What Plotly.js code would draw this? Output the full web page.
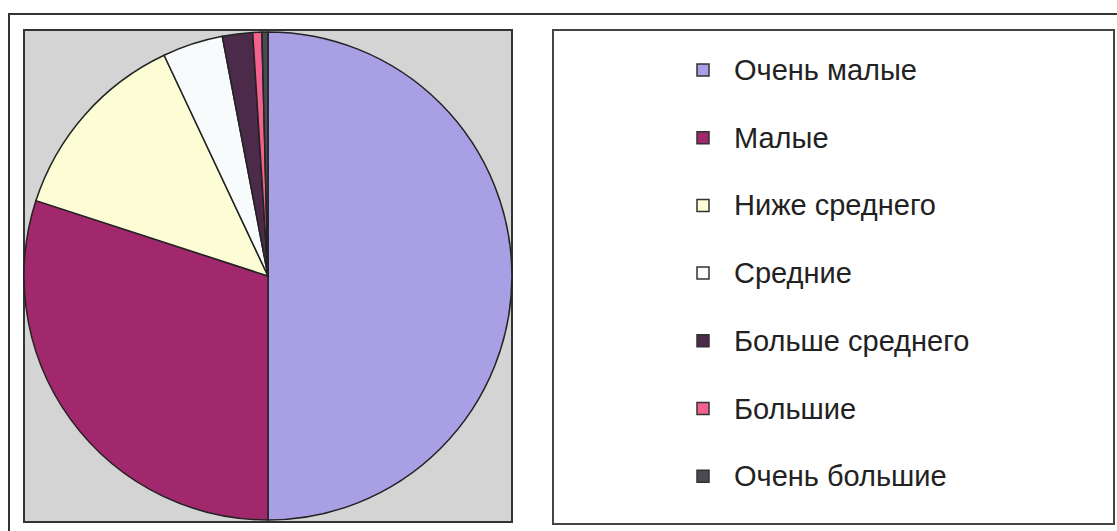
<!DOCTYPE html>
<html>
<head>
<meta charset="utf-8">
<script src="https://cdn.plot.ly/plotly-3.0.1.min.js"></script>
<style>html,body{margin:0;padding:0;background:#fff;}#chart{width:1117px;height:531px;}</style>
</head>
<body>
<div id="chart"></div>
<script>
const labels = ["Очень малые", "Малые", "Ниже среднего", "Средние", "Больше среднего", "Большие", "Очень большие"];
const values = [50, 30, 13, 4, 2, 0.6, 0.4];
const colors = ["#a89fe5", "#a2286d", "#fdfdd5", "#f7fbfb", "#4c2a4a", "#f2628c", "#4a4a55"];

const W = 1117, H = 531;
const px = x => x / W;
const py = y => (H - y) / H;

const shapes = [
  // outer frame
  {type:"rect", xref:"paper", yref:"paper", x0:px(9), x1:px(1130), y0:py(14), y1:py(545),
   line:{color:"#333", width:2}, fillcolor:"rgba(0,0,0,0)", layer:"below"},
  // plot area
  {type:"rect", xref:"paper", yref:"paper", x0:px(24), x1:px(512), y0:py(30), y1:py(522),
   line:{color:"#333", width:2}, fillcolor:"#d4d4d4", layer:"below"},
  // legend box
  {type:"rect", xref:"paper", yref:"paper", x0:px(553), x1:px(1114), y0:py(30), y1:py(524),
   line:{color:"#444", width:2}, fillcolor:"#ffffff", layer:"below"}
];
const annotations = [];
labels.forEach((lab, i) => {
  const cy = 70 + i * 67.7;
  shapes.push({type:"rect", xref:"paper", yref:"paper",
    x0:px(697), x1:px(709), y0:py(cy - 6), y1:py(cy + 6),
    fillcolor:colors[i], line:{color:"#333", width:1.5}});
  annotations.push({xref:"paper", yref:"paper", x:px(732), y:py(cy), xanchor:"left", yanchor:"middle",
    text:lab, showarrow:false, font:{family:"Liberation Sans, Arial, sans-serif", size:29, color:"#222"}});
});

const data = [{
  type:"pie", labels:labels, values:values, sort:false, direction:"clockwise", rotation:0,
  marker:{colors:colors, line:{color:"#222", width:1.5}},
  textinfo:"none", hoverinfo:"label+percent", showlegend:false,
  domain:{x:[px(24), px(512)], y:[py(522), py(30)]}
}];

const layout = {
  width:W, height:H, margin:{l:0, r:0, t:0, b:0},
  paper_bgcolor:"#ffffff", showlegend:false,
  shapes:shapes, annotations:annotations
};
Plotly.newPlot("chart", data, layout, {displayModeBar:false, staticPlot:true});
</script>
</body>
</html>
